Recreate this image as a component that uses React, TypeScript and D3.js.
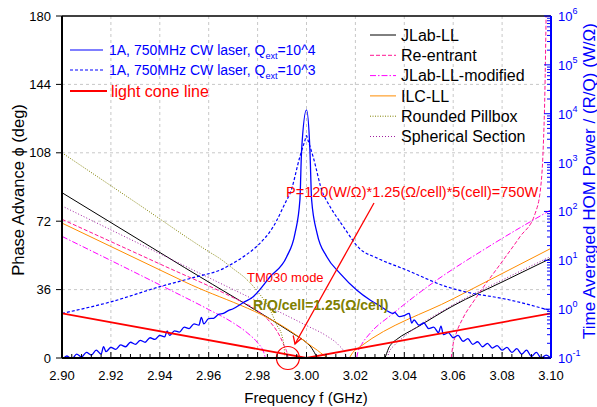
import React from "react";
import * as d3 from "d3";

const W = 597;
const H = 407;
const PL = 62, PR = 551, PT = 16, PB = 358;

const xTicks = [2.9, 2.92, 2.94, 2.96, 2.98, 3.0, 3.02, 3.04, 3.06, 3.08, 3.1];
const phaseTicks = [0, 36, 72, 108, 144, 180];
const powerExps = [-1, 0, 1, 2, 3, 4, 5, 6];

const lightCone: [number, number][] = [[2.9, 23.5], [3.0, 0], [3.1, 23.5]];

const jlabLeft: [number, number][] = [[2.9, 87], [2.95, 47.7], [2.9966, 11.2], [2.9985, 9.6], [3.0003, 7.7], [3.0018, 5.8], [3.0028, 3.8], [3.0036, 2.0], [3.0042, 0]];
const jlabRight: [number, number][] = [[3.0321, 0], [3.0328, 2.5], [3.0336, 5.2], [3.0348, 7.5], [3.0369, 9.8], [3.045, 16], [3.06, 27.5], [3.08, 40], [3.1, 52.5]];

const reentrantLeft: [number, number][] = [[2.9, 73], [2.94, 49.5], [2.97, 31.8], [2.978, 26.5], [2.984, 20.5], [2.9892, 11.2], [2.991, 6], [2.9921, 2.5], [2.9925, 0]];
const reentrantRight: [number, number][] = [[3.0592, 0], [3.0598, 6], [3.061, 12], [3.064, 21], [3.0687, 30.5], [3.0805, 51.6], [3.0873, 63.8], [3.0935, 76], [3.0958, 90], [3.0968, 110], [3.0975, 140], [3.098, 180]];

const modifiedLeft: [number, number][] = [[2.9, 64], [2.94, 38.5], [2.96, 25.5], [2.97, 18.5], [2.976, 13], [2.98, 8], [2.9825, 3], [2.9832, 0]];
const modifiedRight: [number, number][] = [[3.0205, 0], [3.021, 3], [3.0225, 7], [3.026, 13], [3.035, 23], [3.05, 38], [3.075, 59], [3.1, 78]];

const ilcLeft: [number, number][] = [[2.9, 71], [2.95, 40.2], [2.9958, 12.1], [3.001, 7.2], [3.0045, 4], [3.0069, 1.6], [3.0088, 0]];
const ilcRight: [number, number][] = [[3.0175, 0], [3.019, 3], [3.022, 6], [3.06, 31.2], [3.1, 57.7]];

const pillbox: [number, number][] = [[2.9, 108], [2.93, 82], [2.96, 56], [2.9646, 52.3], [2.97, 47], [2.975, 42], [2.98, 35], [2.9851, 25.3], [2.988, 17], [2.9899, 12], [2.9908, 6], [2.9912, 0]];

const sphericalLeft: [number, number][] = [[2.9, 80], [2.96, 42.3], [3.0, 17.1], [3.008, 11.8], [3.013, 7], [3.0155, 3], [3.0165, 0]];
const sphericalRight: [number, number][] = [[3.033, 0], [3.0338, 3], [3.036, 6.8], [3.04, 11.3], [3.06, 28], [3.08, 41], [3.1, 53.5]];

const laser1e4: [number, number][] = [
  [2.9, 0.09], [2.902, 0.11], [2.904, 0.095], [2.906, 0.12], [2.908, 0.105], [2.91, 0.13], [2.912, 0.115], [2.914, 0.145],
  [2.916, 0.12], [2.917, 0.17], [2.918, 0.135], [2.92, 0.165], [2.922, 0.15], [2.924, 0.185], [2.926, 0.17], [2.928, 0.21],
  [2.93, 0.19], [2.932, 0.23], [2.934, 0.21], [2.936, 0.26], [2.938, 0.24], [2.94, 0.29], [2.942, 0.27], [2.943, 0.36],
  [2.944, 0.29], [2.946, 0.36], [2.948, 0.34], [2.95, 0.43], [2.952, 0.4], [2.954, 0.5], [2.956, 0.47], [2.957, 0.68],
  [2.958, 0.5], [2.96, 0.64], [2.962, 0.65], [2.964, 0.78], [2.966, 0.82], [2.968, 0.93], [2.97, 1.02], [2.974, 1.35],
  [2.9782, 1.8], [2.9851, 4.6], [2.9919, 11.8], [2.9953, 35.6], [2.9973, 171], [2.998, 1810], [3.0, 12000], [3.0014, 1810],
  [3.0021, 171], [3.0043, 36], [3.0083, 11.8], [3.0137, 5.4], [3.0205, 2.47], [3.026, 1.54], [3.03, 1.17], [3.0355, 0.82],
  [3.036, 0.86], [3.038, 0.7], [3.04, 0.74], [3.042, 0.82], [3.043, 0.52], [3.044, 0.6], [3.046, 0.47], [3.048, 0.52],
  [3.05, 0.4], [3.052, 0.43], [3.054, 0.33], [3.055, 0.45], [3.056, 0.3], [3.058, 0.33], [3.06, 0.26], [3.062, 0.29],
  [3.064, 0.22], [3.066, 0.25], [3.068, 0.19], [3.07, 0.215], [3.072, 0.17], [3.074, 0.2], [3.076, 0.16], [3.078, 0.18],
  [3.08, 0.145], [3.082, 0.165], [3.084, 0.13], [3.086, 0.155], [3.088, 0.12], [3.09, 0.145], [3.092, 0.108], [3.094, 0.13],
  [3.096, 0.1], [3.098, 0.115], [3.1, 0.098],
];

const laser1e3: [number, number][] = [
  [2.9, 0.82], [2.92, 1.41], [2.94, 2.88], [2.955, 4.6], [2.9646, 6.3], [2.9687, 8.0], [2.975, 12.6], [2.98, 20],
  [2.9864, 48.6], [2.9919, 171], [2.9933, 234], [2.9973, 1318], [2.9994, 2884], [3.0, 3550], [3.0006, 2884], [3.0027, 1318],
  [3.0067, 234], [3.0081, 171], [3.0151, 48.6], [3.0219, 17], [3.0287, 11.2], [3.041, 6.3], [3.0573, 2.88], [3.0628, 2.4],
  [3.0832, 1.54], [3.1, 0.93],
];

const leftLegend = [
  { label: "1A, 750MHz CW laser, Q", sub: "ext", tail: "=10^4", color: "#0000ff", dash: "", width: 1.2, size: 14 },
  { label: "1A, 750MHz CW laser, Q", sub: "ext", tail: "=10^3", color: "#0000ff", dash: "3,2", width: 1.2, size: 14 },
  { label: "light cone line", sub: "", tail: "", color: "#ff0000", dash: "", width: 2, size: 16 },
];

const models = [
  { name: "JLab-LL", color: "#000000", dash: "", branches: [jlabLeft, jlabRight] },
  { name: "Re-entrant", color: "#ff1493", dash: "4,2", branches: [reentrantLeft, reentrantRight] },
  { name: "JLab-LL-modified", color: "#ff00ff", dash: "6,2,1.5,2", branches: [modifiedLeft, modifiedRight] },
  { name: "ILC-LL", color: "#ff8c00", dash: "", branches: [ilcLeft, ilcRight] },
  { name: "Rounded Pillbox", color: "#808000", dash: "1,1.5", branches: [pillbox] },
  { name: "Spherical Section", color: "#a020a0", dash: "1,2", branches: [sphericalLeft, sphericalRight] },
];

const FONT = "'Liberation Sans', Arial, Helvetica, sans-serif";

export default function App() {
  const x = d3.scaleLinear().domain([2.9, 3.1]).range([PL, PR]);
  const yL = d3.scaleLinear().domain([0, 180]).range([PB, PT]);
  const yR = d3.scaleLog().domain([0.1, 1e6]).range([PB, PT]);

  const phaseLine = d3.line<[number, number]>().x(d => x(d[0])).y(d => yL(d[1])).curve(d3.curveMonotoneX);
  const coneLine = d3.line<[number, number]>().x(d => x(d[0])).y(d => yL(d[1]));
  const powerLine = d3.line<[number, number]>().x(d => x(d[0])).y(d => yR(d[1])).curve(d3.curveMonotoneX);

  const minorX = d3.range(0, 51).map(i => 2.9 + i * 0.004);
  const minorR: number[] = [];
  for (let e = -1; e < 6; e++) for (let k = 2; k <= 9; k++) minorR.push(k * Math.pow(10, e));

  const rowR = (i: number) => 35 + i * 20.3;

  return (
    <svg width={W} height={H} style={{ display: "block", position: "absolute", left: 0, top: 0, background: "#fff" }} fontFamily={FONT}>
      <defs>
        <clipPath id="plot">
          <rect x={PL} y={PT} width={PR - PL} height={PB - PT} />
        </clipPath>
      </defs>
      <rect x={0} y={0} width={W} height={H} fill="#fff" />
      <g stroke="#c8c8c8" strokeWidth={1} strokeDasharray="3,3">
        {xTicks.slice(1, -1).map(t => (
          <line key={"gx" + t} x1={x(t)} x2={x(t)} y1={PT} y2={PB} />
        ))}
        {phaseTicks.slice(1, -1).map(t => (
          <line key={"gy" + t} x1={PL} x2={PR} y1={yL(t)} y2={yL(t)} />
        ))}
      </g>
      <g clipPath="url(#plot)" fill="none">
        {models.map(m =>
          m.branches.map((b, i) => (
            <path key={m.name + i} d={phaseLine(b) || ""} stroke={m.color} strokeWidth={1} strokeDasharray={m.dash || undefined} />
          ))
        )}
        <path d={powerLine(laser1e3) || ""} stroke="#0000ff" strokeWidth={1.2} strokeDasharray="3,2" />
        <path d={powerLine(laser1e4) || ""} stroke="#0000ff" strokeWidth={1.3} />
        <path d={coneLine(lightCone) || ""} stroke="#ff0000" strokeWidth={1.8} />
      </g>
      <circle cx={x(2.9924)} cy={yL(0)} r={11.5} fill="none" stroke="#ff0000" strokeWidth={1.2} />
      <line x1={374} y1={203} x2={295} y2={344} stroke="#ff0000" strokeWidth={1.3} />
      <path d="M 293.2 335.5 L 295 344 L 301.5 338.2" fill="none" stroke="#ff0000" strokeWidth={1.3} />
      <text x={286} y={197} fontSize={14.5} fill="#ff0000">P=120(W/Ω)*1.25(Ω/cell)*5(cell)=750W</text>
      <text x={247} y={281.5} fontSize={13} fill="#ff0000">TM030 mode</text>
      <text x={253} y={310} fontSize={14} fontWeight="bold" fill="#808000">R/Q/cell=1.25(Ω/cell)</text>
      <line x1={PL} x2={PR} y1={PT} y2={PT} stroke="#000" strokeWidth={1.5} />
      <line x1={PL} x2={PR} y1={PB} y2={PB} stroke="#000" strokeWidth={2} />
      <line x1={PL} x2={PL} y1={PT} y2={PB} stroke="#000" strokeWidth={2} />
      <g stroke="#000" strokeWidth={1}>
        {minorX.map((t, i) => (
          <line key={"mx" + i} x1={x(t)} x2={x(t)} y1={PB} y2={PB - (i % 5 === 0 ? 6 : 4)} />
        ))}
      </g>
      <g fontSize={13} fill="#000" textAnchor="middle">
        {xTicks.map(t => (
          <text key={"lx" + t} x={x(t)} y={380}>{t.toFixed(2)}</text>
        ))}
      </g>
      <g stroke="#000" strokeWidth={1}>
        {phaseTicks.map(t => (
          <line key={"ty" + t} x1={PL - 6} x2={PL} y1={yL(t)} y2={yL(t)} />
        ))}
      </g>
      <g fontSize={13} fill="#000" textAnchor="end">
        {phaseTicks.map(t => (
          <text key={"ly" + t} x={51} y={yL(t) + 4.5}>{t}</text>
        ))}
      </g>
      <line x1={PR} x2={PR} y1={PT} y2={PB} stroke="#0000ff" strokeWidth={2} />
      <g stroke="#0000ff" strokeWidth={1}>
        {powerExps.map(e => (
          <line key={"rt" + e} x1={PR - 7} x2={PR} y1={yR(Math.pow(10, e))} y2={yR(Math.pow(10, e))} />
        ))}
        {minorR.map((v, i) => (
          <line key={"rm" + i} x1={PR - 4} x2={PR} y1={yR(v)} y2={yR(v)} />
        ))}
      </g>
      <g fontSize={13} fill="#0000ff">
        {powerExps.map(e => (
          <text key={"rl" + e} x={558} y={yR(Math.pow(10, e)) + 5}>
            10<tspan fontSize={9} dy={-7}>{e}</tspan>
          </text>
        ))}
      </g>
      <text x={306} y={403} fontSize={15} textAnchor="middle" fill="#000">Frequency f (GHz)</text>
      <text transform={`translate(18,190) rotate(-90)`} fontSize={16.5} textAnchor="middle" dominantBaseline="central" fill="#000">Phase Advance ϕ (deg)</text>
      <text transform={`translate(589,181) rotate(-90)`} fontSize={17} textAnchor="middle" dominantBaseline="central" fill="#0000ff">Time Averaged HOM Power / (R/Q) (W/Ω)</text>
      {leftLegend.map((l, i) => {
        const y = [50, 70, 91][i];
        return (
          <g key={"ll" + i}>
            <line x1={70} x2={l.sub ? 103 : 107} y1={y} y2={y} stroke={l.color} strokeWidth={l.width} strokeDasharray={l.dash || undefined} />
            <text x={l.sub ? 109 : 111} y={y + (l.size === 16 ? 5.5 : 5)} fontSize={l.size} fill={l.color}>
              {l.label}
              {l.sub ? <tspan fontSize={9} dy={4}>{l.sub}</tspan> : null}
              {l.tail ? <tspan dy={-4}>{l.tail}</tspan> : null}
            </text>
          </g>
        );
      })}
      {models.map((m, i) => (
        <g key={"rl" + m.name}>
          <line x1={370} x2={396} y1={rowR(i)} y2={rowR(i)} stroke={m.color} strokeWidth={1} strokeDasharray={m.dash || undefined} />
          <text x={401} y={rowR(i) + 5.7} fontSize={16} fill="#000">{m.name}</text>
        </g>
      ))}
    </svg>
  );
}
